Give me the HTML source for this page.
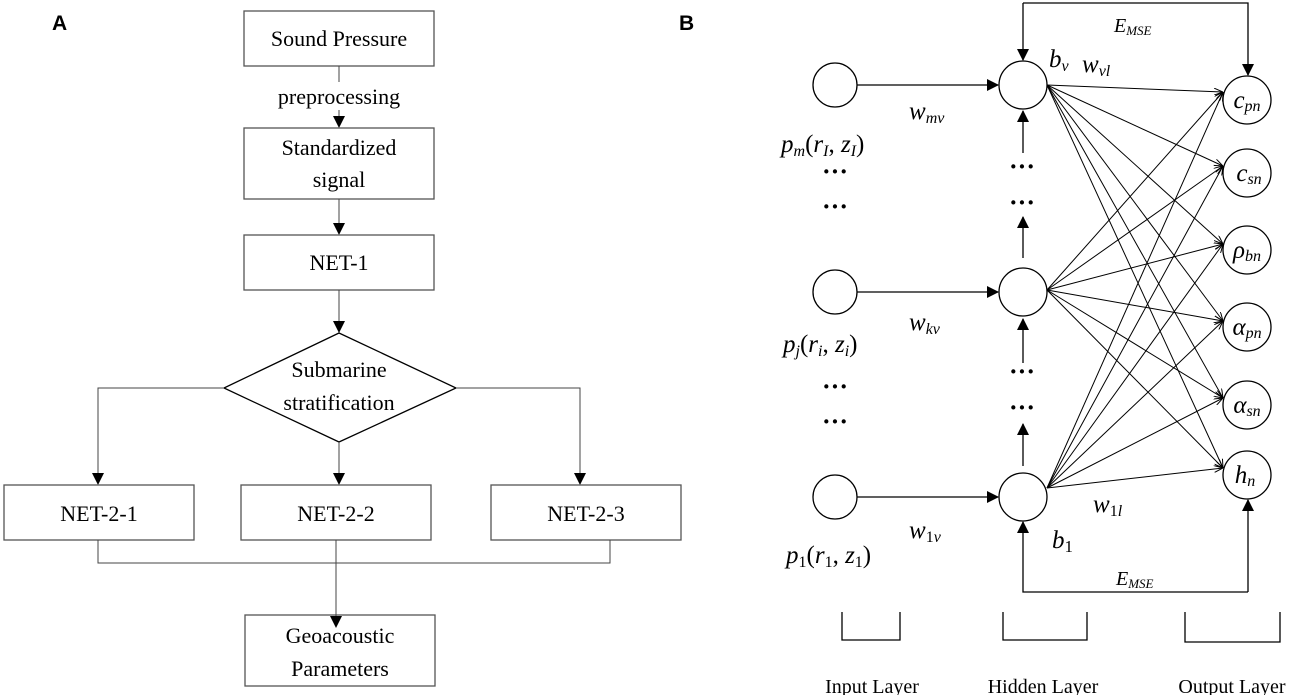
<!DOCTYPE html>
<html><head><style>
html,body{margin:0;padding:0;background:#fff;}
svg{display:block;}
text{font-family:"Liberation Serif",serif;fill:#000;}
.b{fill:#fff;stroke:#555;stroke-width:1.3;}
.l{stroke:#444;stroke-width:1;fill:none;}
.k{stroke:#000;stroke-width:1.3;fill:none;}
.it{font-style:italic;}
</style></head><body>
<svg width="1299" height="695" viewBox="0 0 1299 695" xmlns="http://www.w3.org/2000/svg">
<defs>
<marker id="ah" markerWidth="12" markerHeight="12" refX="11" refY="6" orient="auto" markerUnits="userSpaceOnUse"><path d="M0,0 L12,6 L0,12 z" fill="#000"/></marker>
<marker id="as" markerWidth="9" markerHeight="7" refX="9" refY="3.5" orient="auto" markerUnits="userSpaceOnUse"><path d="M0,0 L9,3.5 L0,7" fill="none" stroke="#000" stroke-width="1"/></marker>
</defs>
<text x="52" y="30" style="font-family:'Liberation Sans',sans-serif;font-weight:bold;font-size:21px">A</text>
<text x="679" y="30" style="font-family:'Liberation Sans',sans-serif;font-weight:bold;font-size:21px">B</text>

<!-- Panel A -->
<rect class="b" x="244" y="11" width="190" height="55"/>
<text x="339" y="46" font-size="22" text-anchor="middle">Sound Pressure</text>
<line class="l" x1="339" y1="66" x2="339" y2="82"/>
<text x="339" y="104" font-size="22" text-anchor="middle">preprocessing</text>
<line class="l" x1="339" y1="110" x2="339" y2="127" marker-end="url(#ah)"/>
<rect class="b" x="244" y="128" width="190" height="71"/>
<text x="339" y="155" font-size="22" text-anchor="middle">Standardized</text>
<text x="339" y="187" font-size="22" text-anchor="middle">signal</text>
<line class="l" x1="339" y1="199" x2="339" y2="234" marker-end="url(#ah)"/>
<rect class="b" x="244" y="235" width="190" height="55"/>
<text x="339" y="270" font-size="22" text-anchor="middle">NET-1</text>
<line class="l" x1="339" y1="290" x2="339" y2="332" marker-end="url(#ah)"/>
<polygon points="339,333 456,388 339,442 224,388" fill="#fff" stroke="#000" stroke-width="1.3"/>
<text x="339" y="377" font-size="22" text-anchor="middle">Submarine</text>
<text x="339" y="410" font-size="22" text-anchor="middle">stratification</text>
<polyline class="l" points="224,388 98,388 98,484" marker-end="url(#ah)"/>
<polyline class="l" points="456,388 580,388 580,484" marker-end="url(#ah)"/>
<line class="l" x1="339" y1="442" x2="339" y2="484" marker-end="url(#ah)"/>
<rect class="b" x="4" y="485" width="190" height="55"/>
<text x="99" y="521" font-size="22" text-anchor="middle">NET-2-1</text>
<rect class="b" x="241" y="485" width="190" height="55"/>
<text x="336" y="521" font-size="22" text-anchor="middle">NET-2-2</text>
<rect class="b" x="491" y="485" width="190" height="55"/>
<text x="586" y="521" font-size="22" text-anchor="middle">NET-2-3</text>
<polyline class="l" points="98,540 98,563 610,563 610,540"/>
<rect class="b" x="245" y="615" width="190" height="71"/>
<line class="l" x1="336" y1="540" x2="336" y2="627" marker-end="url(#ah)"/>
<text x="340" y="643" font-size="22" text-anchor="middle">Geoacoustic</text>
<text x="340" y="676" font-size="22" text-anchor="middle">Parameters</text>

<!-- Panel B -->
<g class="k">
<circle cx="835" cy="85" r="22"/><circle cx="835" cy="292" r="22"/><circle cx="835" cy="497" r="22"/>
<circle cx="1023" cy="85" r="24"/><circle cx="1023" cy="292" r="24"/><circle cx="1023" cy="497" r="24"/>
<circle cx="1247" cy="100" r="24"/><circle cx="1247" cy="173" r="24"/><circle cx="1247" cy="250" r="24"/>
<circle cx="1247" cy="327" r="24"/><circle cx="1247" cy="405" r="24"/><circle cx="1247" cy="475" r="24"/>
<line x1="857" y1="85" x2="998" y2="85" marker-end="url(#ah)"/>
<line x1="857" y1="292" x2="998" y2="292" marker-end="url(#ah)"/>
<line x1="857" y1="497" x2="998" y2="497" marker-end="url(#ah)"/>
<line x1="1023" y1="153" x2="1023" y2="111" marker-end="url(#ah)"/>
<line x1="1023" y1="258" x2="1023" y2="217" marker-end="url(#ah)"/>
<line x1="1023" y1="363" x2="1023" y2="319" marker-end="url(#ah)"/>
<line x1="1023" y1="466" x2="1023" y2="424" marker-end="url(#ah)"/>
<polyline points="1023,3 1248,3 1248,75" marker-end="url(#ah)"/>
<line x1="1023" y1="3" x2="1023" y2="60" marker-end="url(#ah)"/>
<polyline points="1248,592 1023,592 1023,522" marker-end="url(#ah)"/>
<line x1="1248" y1="592" x2="1248" y2="500" marker-end="url(#ah)"/>
<polyline points="842,612 842,640 900,640 900,612"/>
<polyline points="1003,612 1003,640 1087,640 1087,612"/>
<polyline points="1185,612 1185,642 1280,642 1280,612"/>
</g>
<g stroke="#000" stroke-width="1" fill="none">
<line x1="1047" y1="85" x2="1223" y2="92" marker-end="url(#as)"/>
<line x1="1047" y1="85" x2="1223" y2="166" marker-end="url(#as)"/>
<line x1="1047" y1="85" x2="1223" y2="244" marker-end="url(#as)"/>
<line x1="1047" y1="85" x2="1223" y2="321" marker-end="url(#as)"/>
<line x1="1047" y1="85" x2="1223" y2="398" marker-end="url(#as)"/>
<line x1="1047" y1="85" x2="1223" y2="468" marker-end="url(#as)"/>
<line x1="1047" y1="290" x2="1223" y2="92" marker-end="url(#as)"/>
<line x1="1047" y1="290" x2="1223" y2="166" marker-end="url(#as)"/>
<line x1="1047" y1="290" x2="1223" y2="244" marker-end="url(#as)"/>
<line x1="1047" y1="290" x2="1223" y2="321" marker-end="url(#as)"/>
<line x1="1047" y1="290" x2="1223" y2="398" marker-end="url(#as)"/>
<line x1="1047" y1="290" x2="1223" y2="468" marker-end="url(#as)"/>
<line x1="1047" y1="488" x2="1223" y2="92" marker-end="url(#as)"/>
<line x1="1047" y1="488" x2="1223" y2="166" marker-end="url(#as)"/>
<line x1="1047" y1="488" x2="1223" y2="244" marker-end="url(#as)"/>
<line x1="1047" y1="488" x2="1223" y2="321" marker-end="url(#as)"/>
<line x1="1047" y1="488" x2="1223" y2="398" marker-end="url(#as)"/>
<line x1="1047" y1="488" x2="1223" y2="468" marker-end="url(#as)"/>
</g>
<g font-size="25" class="it">
<text x="1247" y="108" text-anchor="middle">c<tspan font-size="16" dy="3">pn</tspan></text>
<text x="1249" y="181" text-anchor="middle">c<tspan font-size="16" dy="3">sn</tspan></text>
<text x="1247" y="258" text-anchor="middle">ρ<tspan font-size="16" dy="3">bn</tspan></text>
<text x="1247" y="335" text-anchor="middle">α<tspan font-size="16" dy="3">pn</tspan></text>
<text x="1247" y="413" text-anchor="middle">α<tspan font-size="16" dy="3">sn</tspan></text>
<text x="1245" y="483" text-anchor="middle">h<tspan font-size="16" dy="3">n</tspan></text>
<text x="1049" y="67">b<tspan font-size="16" dy="4">v</tspan></text>
<text x="1052" y="548">b<tspan font-size="17" dy="4" font-style="normal">1</tspan></text>
<text x="1082" y="72">w<tspan font-size="16" dy="4">vl</tspan></text>
<text x="1093" y="512">w<tspan font-size="16" dy="4" font-style="normal">1</tspan><tspan font-size="16">l</tspan></text>
<text x="909" y="119">w<tspan font-size="16" dy="4">mv</tspan></text>
<text x="909" y="330">w<tspan font-size="16" dy="4">kv</tspan></text>
<text x="909" y="538">w<tspan font-size="16" dy="4" font-style="normal">1</tspan><tspan font-size="16">v</tspan></text>
<text x="1114" y="32" font-size="20">E<tspan font-size="13" dy="3">MSE</tspan></text>
<text x="1116" y="585" font-size="20">E<tspan font-size="13" dy="3">MSE</tspan></text>
<text x="781" y="152">p<tspan font-size="16" dy="4">m</tspan><tspan dy="-4" font-style="normal">(</tspan>r<tspan font-size="16" dy="4">I</tspan><tspan dy="-4" font-style="normal">, </tspan>z<tspan font-size="16" dy="4">I</tspan><tspan dy="-4" font-style="normal">)</tspan></text>
<text x="783" y="352">p<tspan font-size="16" dy="4">j</tspan><tspan dy="-4" font-style="normal">(</tspan>r<tspan font-size="16" dy="4">i</tspan><tspan dy="-4" font-style="normal">, </tspan>z<tspan font-size="16" dy="4">i</tspan><tspan dy="-4" font-style="normal">)</tspan></text>
<text x="786" y="563">p<tspan font-size="16" dy="4" font-style="normal">1</tspan><tspan dy="-4" font-style="normal">(</tspan>r<tspan font-size="16" dy="4" font-style="normal">1</tspan><tspan dy="-4" font-style="normal">, </tspan>z<tspan font-size="16" dy="4" font-style="normal">1</tspan><tspan dy="-4" font-style="normal">)</tspan></text>
</g>
<g font-size="26" font-weight="bold" text-anchor="middle">
<text x="835" y="180">···</text><text x="835" y="215">···</text>
<text x="835" y="395">···</text><text x="835" y="430">···</text>
<text x="1022" y="175">···</text><text x="1022" y="211">···</text>
<text x="1022" y="380">···</text><text x="1022" y="416">···</text>
</g>
<g font-size="20" text-anchor="middle">
<text x="872" y="693">Input Layer</text>
<text x="1043" y="693">Hidden Layer</text>
<text x="1232" y="693">Output Layer</text>
</g>
</svg>
</body></html>
